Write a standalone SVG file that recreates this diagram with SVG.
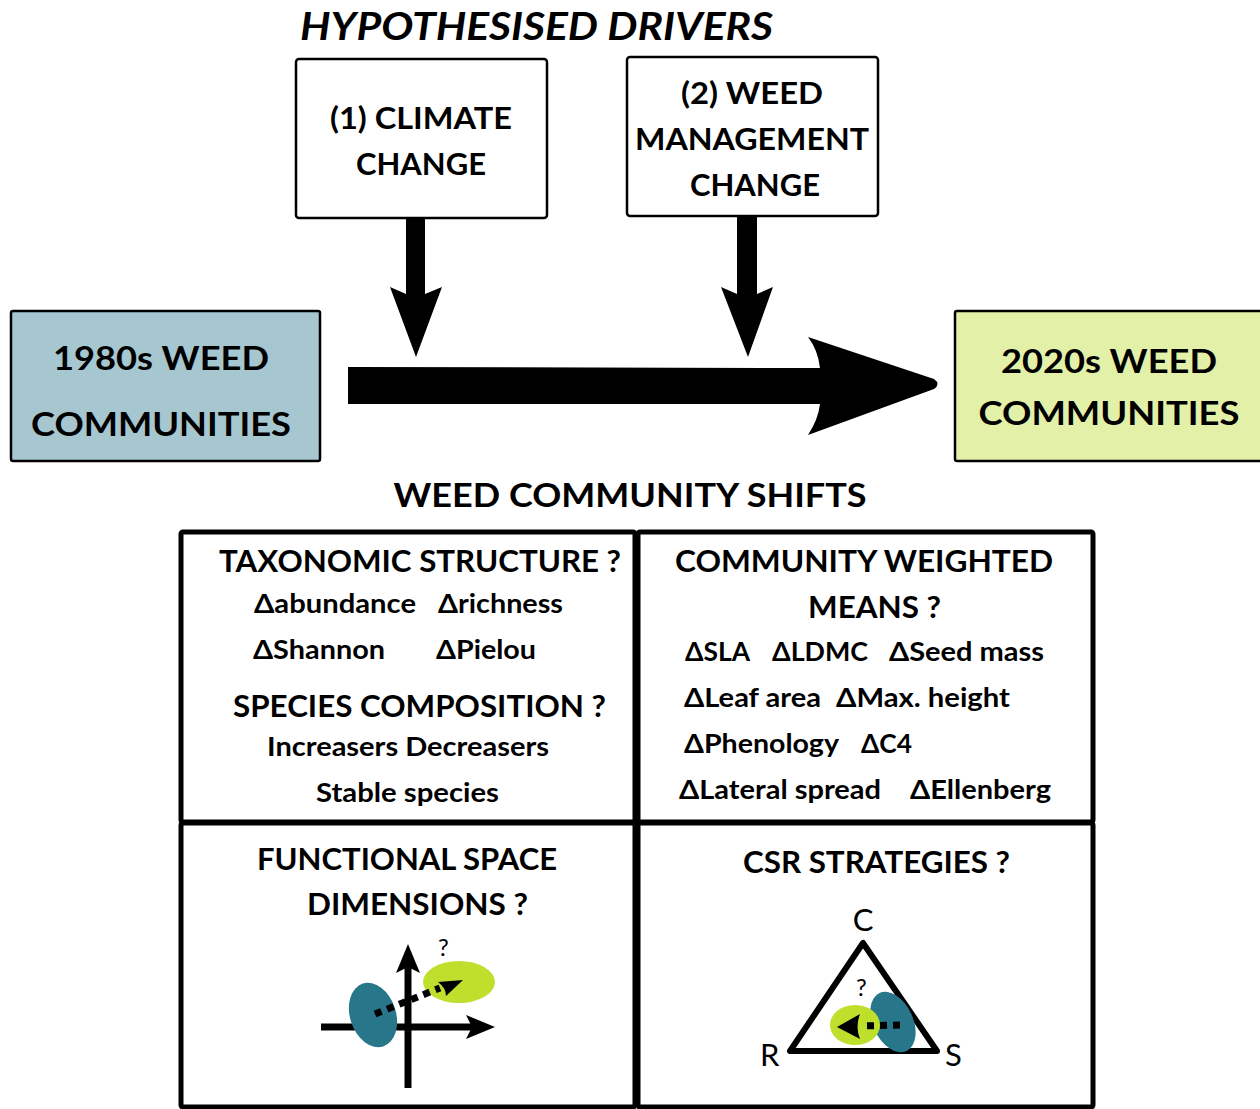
<svg xmlns="http://www.w3.org/2000/svg" width="1260" height="1109" viewBox="0 0 1260 1109">
<style>
text{font-family:Lato,"Open Sans","Liberation Sans",sans-serif;fill:#000}
.b{font-weight:bold}
.h{font-size:31px;font-weight:bold;text-anchor:middle}
.big{font-size:33px;font-weight:bold;text-anchor:middle}
.hd{font-size:30px;font-weight:bold}
.it{font-size:26px;font-weight:bold}
.box{fill:#fff;stroke:#000;stroke-width:2.5}
.cell{fill:#fff;stroke:#000;stroke-width:5}
.ax{stroke:#000;stroke-width:7;fill:none}
.dot{stroke:#000;stroke-width:7;stroke-dasharray:7 6;fill:none}
.teal{fill:#287689}
.lime{fill:#bedf2c}
</style>
<rect width="1260" height="1109" fill="#fff"/>
<text x="300" y="40" font-size="38" font-weight="bold" font-style="italic" textLength="473" lengthAdjust="spacingAndGlyphs">HYPOTHESISED DRIVERS</text>

<g id="climate">
<rect class="box" x="296" y="59" width="251" height="159" rx="3"/>
<text class="h" x="421" y="129" textLength="182" lengthAdjust="spacingAndGlyphs">(1) CLIMATE</text>
<text class="h" x="421" y="175" textLength="130" lengthAdjust="spacingAndGlyphs">CHANGE</text>
</g>
<g id="management">
<rect class="box" x="627" y="57" width="251" height="159" rx="3"/>
<text class="h" x="752" y="104" textLength="142" lengthAdjust="spacingAndGlyphs">(2) WEED</text>
<text class="h" x="752" y="150" textLength="234" lengthAdjust="spacingAndGlyphs">MANAGEMENT</text>
<text class="h" x="755" y="196" textLength="130" lengthAdjust="spacingAndGlyphs">CHANGE</text>
</g>
<g id="c1980">
<rect x="11" y="311" width="309" height="150" fill="#a7c7d0" stroke="#000" stroke-width="2.5" rx="2"/>
<text class="big" x="161" y="370" textLength="216" lengthAdjust="spacingAndGlyphs">1980s WEED</text>
<text class="big" x="161" y="436" textLength="260" lengthAdjust="spacingAndGlyphs">COMMUNITIES</text>
</g>
<g id="c2020">
<rect x="955" y="311" width="310" height="150" fill="#e3f0a8" stroke="#000" stroke-width="2.5" rx="2"/>
<text class="big" x="1109" y="373" textLength="216" lengthAdjust="spacingAndGlyphs">2020s WEED</text>
<text class="big" x="1109" y="425" textLength="261" lengthAdjust="spacingAndGlyphs">COMMUNITIES</text>
</g>

<g id="connectors">
<path d="M406,218 L425,218 L425,294 L442,287 L416,357 L390,287 L406,294 Z" fill="#000"/>
<path d="M737,216 L757,216 L757,294 L773,287 L748,357 L721,287 L737,294 Z" fill="#000"/>
<path d="M348,367 L820,368 Q818,350 808,337 L934,379 Q941,384 934,389 L808,435 Q818,420 820,404 L348,404 Z" fill="#000"/>
</g>

<text class="big" x="630" y="507" textLength="473" lengthAdjust="spacingAndGlyphs">WEED COMMUNITY SHIFTS</text>

<g id="taxonomic">
<rect class="cell" x="181" y="532" width="454" height="290" rx="2"/>
<text class="hd" x="219" y="572" textLength="402" lengthAdjust="spacingAndGlyphs">TAXONOMIC STRUCTURE ?</text>
<text class="it" x="254" y="613" textLength="162" lengthAdjust="spacingAndGlyphs">Δabundance</text>
<text class="it" x="438" y="613" textLength="125" lengthAdjust="spacingAndGlyphs">Δrichness</text>
<text class="it" x="253" y="659" textLength="132" lengthAdjust="spacingAndGlyphs">ΔShannon</text>
<text class="it" x="436" y="659" textLength="100" lengthAdjust="spacingAndGlyphs">ΔPielou</text>
<text class="hd" x="233" y="717" textLength="373" lengthAdjust="spacingAndGlyphs">SPECIES COMPOSITION ?</text>
<text class="it" x="267" y="756" textLength="282" lengthAdjust="spacingAndGlyphs">Increasers Decreasers</text>
<text class="it" x="316" y="802" textLength="183" lengthAdjust="spacingAndGlyphs">Stable species</text>
</g>
<g id="cwm">
<rect class="cell" x="638" y="532" width="455" height="290" rx="2"/>
<text class="hd" x="675" y="572" textLength="378" lengthAdjust="spacingAndGlyphs">COMMUNITY WEIGHTED</text>
<text class="hd" x="808" y="618" textLength="133" lengthAdjust="spacingAndGlyphs">MEANS ?</text>
<text class="it" x="685" y="661" textLength="65" lengthAdjust="spacingAndGlyphs">ΔSLA</text>
<text class="it" x="772" y="661" textLength="96" lengthAdjust="spacingAndGlyphs">ΔLDMC</text>
<text class="it" x="889" y="661" textLength="155" lengthAdjust="spacingAndGlyphs">ΔSeed mass</text>
<text class="it" x="684" y="707" textLength="137" lengthAdjust="spacingAndGlyphs">ΔLeaf area</text>
<text class="it" x="836" y="707" textLength="174" lengthAdjust="spacingAndGlyphs">ΔMax. height</text>
<text class="it" x="684" y="753" textLength="155" lengthAdjust="spacingAndGlyphs">ΔPhenology</text>
<text class="it" x="861" y="753" textLength="51" lengthAdjust="spacingAndGlyphs">ΔC4</text>
<text class="it" x="679" y="799" textLength="202" lengthAdjust="spacingAndGlyphs">ΔLateral spread</text>
<text class="it" x="910" y="799" textLength="141" lengthAdjust="spacingAndGlyphs">ΔEllenberg</text>
</g>
<g id="functional">
<rect class="cell" x="181" y="823" width="454" height="284" rx="2"/>
<text class="hd" x="257" y="870" textLength="300" lengthAdjust="spacingAndGlyphs">FUNCTIONAL SPACE</text>
<text class="hd" x="307" y="915" textLength="221" lengthAdjust="spacingAndGlyphs">DIMENSIONS ?</text>
<line class="ax" x1="321" y1="1027" x2="475" y2="1027"/>
<path d="M495,1027 L466,1015 L472,1027 L466,1039 Z" fill="#000"/>
<line class="ax" x1="408" y1="1088" x2="408" y2="965"/>
<path d="M408,944 L396,973 L408,967 L420,973 Z" fill="#000"/>
<ellipse class="teal" cx="373" cy="1015" rx="23" ry="33" transform="rotate(-18 373 1015)"/>
<ellipse class="lime" cx="459" cy="982" rx="36" ry="21"/>
<line class="dot" x1="375" y1="1014" x2="440" y2="988"/>
<path d="M463,980 L438,982 Q446,988 446,996 Z" fill="#000"/>
<text x="438" y="956" font-size="24">?</text>
</g>
<g id="csr">
<rect class="cell" x="638" y="823" width="455" height="284" rx="2"/>
<text class="hd" x="743" y="873" textLength="267" lengthAdjust="spacingAndGlyphs">CSR STRATEGIES ?</text>
<path d="M863,943 L790,1051 L937,1051 Z" fill="none" stroke="#000" stroke-width="6" stroke-linejoin="round"/>
<ellipse class="teal" cx="893" cy="1022" rx="20" ry="32" transform="rotate(-25 893 1022)"/>
<ellipse class="lime" cx="855" cy="1025" rx="25" ry="20"/>
<line class="dot" x1="900" y1="1025" x2="862" y2="1026"/>
<path d="M837,1027 L860,1014 Q855,1027 860,1039 Z" fill="#000"/>
<text x="856" y="996" font-size="24">?</text>
<text x="863" y="931" font-size="31" text-anchor="middle">C</text>
<text x="760" y="1066" font-size="31">R</text>
<text x="945" y="1066" font-size="31">S</text>
</g>
</svg>
